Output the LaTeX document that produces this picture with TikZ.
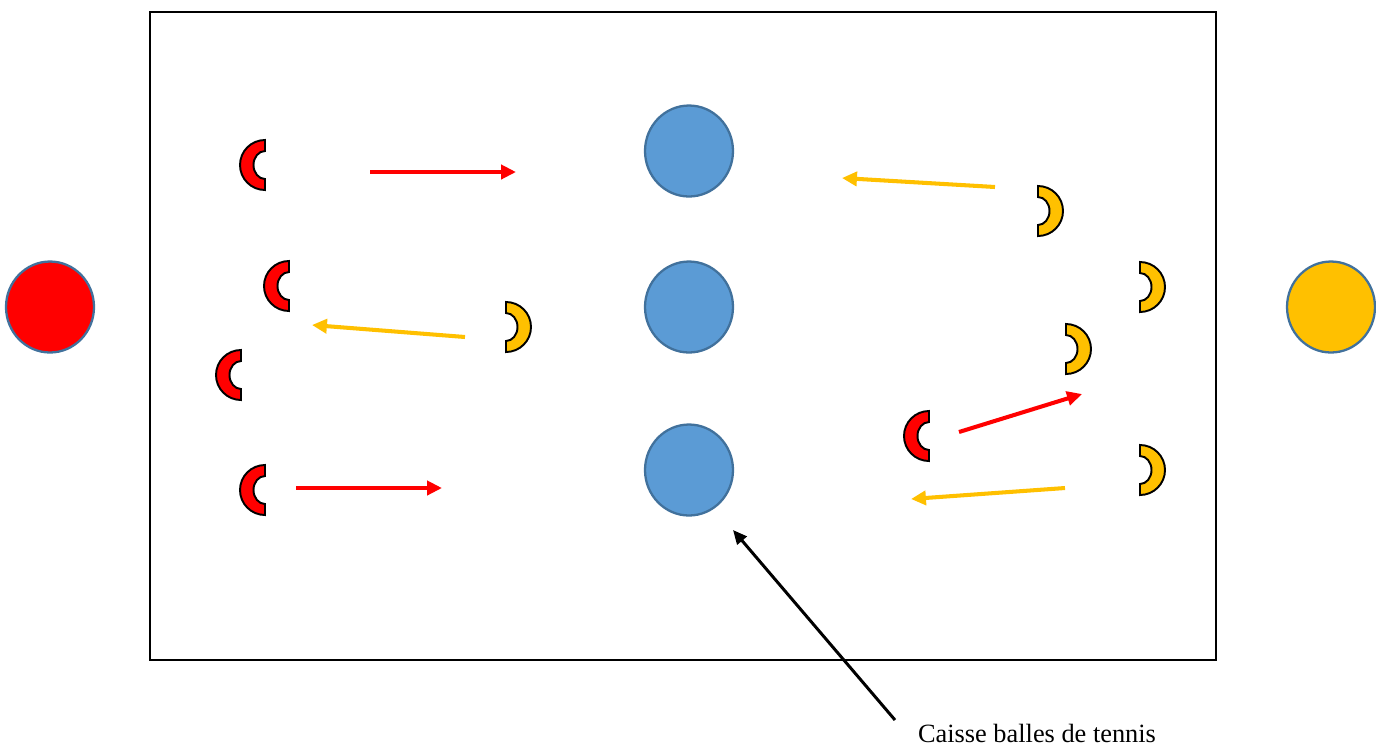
\documentclass[tikz,border=0pt]{standalone}
\usepackage{fontspec}
\setmainfont{Liberation Serif}
\usetikzlibrary{arrows.meta,shapes.geometric}
\definecolor{pred}{HTML}{FF0000}
\definecolor{pyel}{HTML}{FFC000}
\definecolor{pblue}{HTML}{5B9BD5}
\definecolor{pedge}{HTML}{41719C}
\tikzset{
  ball/.style={ellipse,draw=pedge,line width=1.3pt,minimum width=1.76cm,minimum height=1.82cm,inner sep=0pt},
  move/.style={line width=2.3pt,-{Triangle[length=8.5pt,width=8pt]}},
  pointer/.style={line width=1.7pt,black,-{Triangle[length=8pt,width=7pt]}},
  % half ring, flat side at the origin, bulging to the left
  cupleft/.pic={
    \draw[line width=1.1pt,fill=#1] (0,0.5cm) arc[start angle=90,end angle=270,radius=0.5cm]
      -- (0,-0.28cm) arc[start angle=270,end angle=90,x radius=0.23cm,y radius=0.28cm] -- cycle;
  },
  % half ring, flat side at the origin, bulging to the right
  cupright/.pic={
    \draw[line width=1.1pt,fill=#1] (0,0.5cm) arc[start angle=90,end angle=-90,radius=0.5cm]
      -- (0,-0.28cm) arc[start angle=-90,end angle=90,x radius=0.23cm,y radius=0.28cm] -- cycle;
  },
}
\begin{document}
\begin{tikzpicture}[x=0.02cm,y=-0.02cm]
\useasboundingbox (0,0) rectangle (1376,745);
% field
\draw[line width=1pt] (150,12) rectangle (1216,660);
% team bases
\node[ball,fill=pred] (redbase) at (50,307) {};
\node[ball,fill=pyel] (yelbase) at (1331,307) {};
% ball boxes
\node[ball,fill=pblue] (box1) at (689,151) {};
\node[ball,fill=pblue] (box2) at (689,307) {};
\node[ball,fill=pblue] (box3) at (689,470) {};
% red players
\pic at (265,165) {cupleft=pred};
\pic at (289,286) {cupleft=pred};
\pic at (241,375) {cupleft=pred};
\pic at (265,490) {cupleft=pred};
\pic at (929,436) {cupleft=pred};
% yellow players
\pic at (506,327) {cupright=pyel};
\pic at (1038,211) {cupright=pyel};
\pic at (1140,287) {cupright=pyel};
\pic at (1066,349) {cupright=pyel};
\pic at (1140,470) {cupright=pyel};
% runs
\coordinate (r1a) at (370,172); \coordinate (r1b) at (516,172);
\coordinate (r2a) at (959,432); \coordinate (r2b) at (1082,394);
\coordinate (r3a) at (296,488); \coordinate (r3b) at (442,488);
\coordinate (y1a) at (995,187); \coordinate (y1b) at (842,178);
\coordinate (y2a) at (465,337); \coordinate (y2b) at (312,325);
\coordinate (y3a) at (1065,488); \coordinate (y3b) at (911,499);
\draw[move,pred] (r1a) -- (r1b);
\draw[move,pred] (r2a) -- (r2b);
\draw[move,pred] (r3a) -- (r3b);
\draw[move,pyel] (y1a) -- (y1b);
\draw[move,pyel] (y2a) -- (y2b);
\draw[move,pyel] (y3a) -- (y3b);
% label
\node[anchor=base,font=\fontsize{15}{18}\selectfont,inner sep=0pt] (cap) at (1037,742) {Caisse balles de tennis};
\coordinate (captail) at (895,720);
\coordinate (boxtip) at (733,530);
\draw[pointer] (captail) -- (boxtip);
\end{tikzpicture}
\end{document}
